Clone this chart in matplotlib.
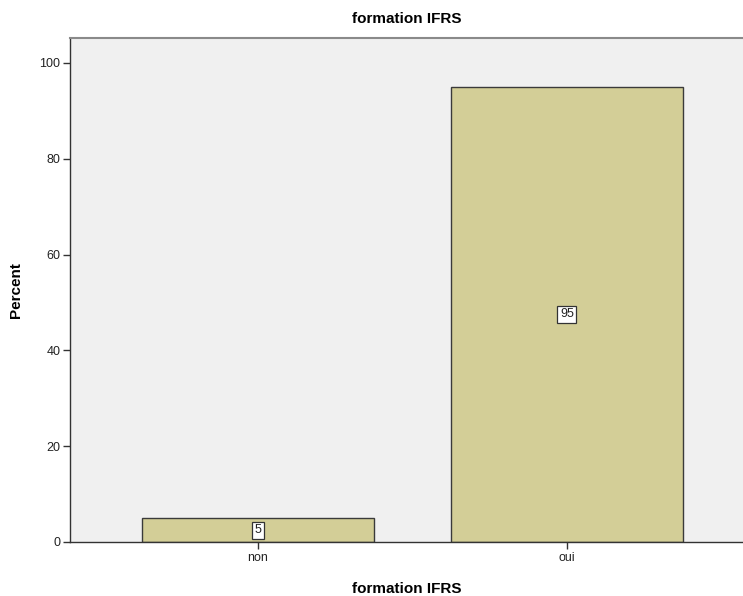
import matplotlib
matplotlib.use("Agg")
from matplotlib import pyplot as plt

categories = ["non", "oui"]
percents = [5, 95]

plt.rcParams['font.family'] = ['Liberation Sans', 'DejaVu Sans']

fig = plt.figure(figsize=(7.43, 5.96), dpi=100)
ax = fig.add_axes([70 / 743, 54 / 596, 1 - 70 / 743, (542 - 38) / 596])
ax.set_facecolor('#f0f0f0')

x = list(range(len(categories)))
ax.bar(x, percents, width=0.75, color='#d3ce97', edgecolor='#3a3a3a', linewidth=1.0, zorder=2)

# value labels in small boxes at mid-height
for xi, v in zip(x, percents):
    ax.text(xi, v / 2, f"{v}", ha='center', va='center', fontsize=9, color='#222222', zorder=3,
            bbox=dict(boxstyle='square,pad=0.2', facecolor='white', edgecolor='#333333', linewidth=0.9))

ax.set_xlim(-0.608, 1.570)
ax.set_ylim(0, 105.2)
ax.set_xticks(x)
ax.set_xticklabels(categories)
ax.set_yticks([0, 20, 40, 60, 80, 100])
ax.tick_params(axis='both', labelsize=9, length=5, width=1.0, color='#333333', labelcolor='#222222', pad=2)

for side in ['left', 'bottom']:
    ax.spines[side].set_color('#333333')
    ax.spines[side].set_linewidth(1.0)
ax.spines['top'].set_color('#8a8a8a')
ax.spines['top'].set_linewidth(1.5)
ax.spines['right'].set_visible(False)

ax.set_title('formation IFRS', fontsize=11, fontweight='bold', pad=11)
ax.set_xlabel('formation IFRS', fontsize=11, fontweight='bold', labelpad=13)
ax.set_ylabel('Percent', fontsize=11, fontweight='bold', labelpad=12)

fig.savefig('out.png', dpi=100)
